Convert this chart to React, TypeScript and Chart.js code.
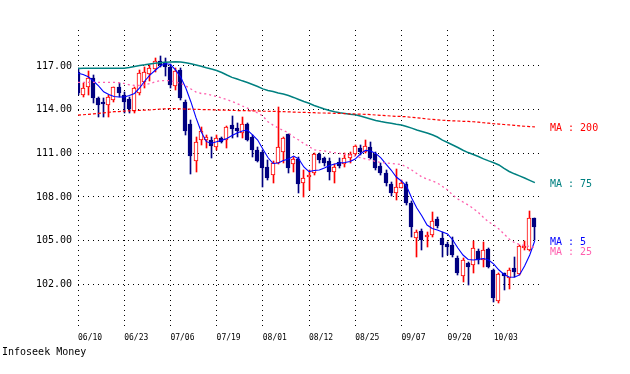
import { useEffect, useRef } from 'react';
import { Chart, registerables } from 'chart.js';

Chart.register(...registerables);

const tickDates = ['06/10', '06/23', '07/06', '07/19', '08/01', '08/12', '08/25', '09/07', '09/20', '10/03'];
const yTicks = [102, 105, 108, 111, 114, 117];

const opens = [
  116.61, 115.0, 115.58, 116.15, 114.78, 114.55, 114.32, 114.66, 115.58, 115.0,
  114.71, 113.9, 115.12, 115.9, 116.45, 116.8, 117.35, 117.25, 116.95, 115.6,
  116.7, 114.55, 113.0, 110.5, 111.9, 111.9, 111.91, 111.45, 112.03, 111.91,
  112.94, 112.72, 112.37, 113.01, 112.14, 111.23, 111.11, 110.08, 109.51, 110.31,
  111.11, 112.31, 110.26, 110.61, 108.94, 109.35, 109.63, 110.93, 110.66, 110.47,
  109.69, 110.38, 110.26, 110.66, 110.95, 111.34, 111.11, 111.41, 110.95, 110.13,
  109.67, 108.89, 108.29, 108.64, 108.89, 107.56, 105.16, 105.66, 105.23, 105.39,
  106.48, 105.16, 104.77, 104.7, 103.78, 102.57, 103.44, 103.32, 104.29, 103.67,
  104.4, 102.98, 100.85, 102.79, 102.41, 103.1, 102.7, 104.47, 104.35, 106.53,
];
const highs = [
  116.84, 115.81, 116.68, 116.38, 114.89, 114.78, 115.0, 115.58, 115.81, 115.23,
  114.89, 115.58, 116.73, 116.9, 117.1, 117.55, 117.7, 117.55, 117.15, 116.85,
  116.85, 114.65, 113.3, 112.1, 112.8, 112.26, 112.14, 112.26, 112.14, 112.88,
  113.56, 113.06, 113.47, 113.1, 112.26, 111.45, 111.23, 110.54, 110.49, 114.2,
  112.14, 112.33, 110.77, 110.77, 109.85, 109.85, 111.04, 111.04, 110.77, 110.66,
  110.26, 110.66, 111.0, 111.07, 111.55, 111.57, 111.91, 111.8, 111.09, 110.33,
  109.85, 109.03, 109.9, 109.17, 109.05, 107.72, 105.73, 105.8, 105.61, 106.99,
  106.64, 105.61, 104.92, 105.27, 103.94, 103.78, 103.55, 104.99, 104.4, 104.92,
  104.49, 103.05, 102.75, 102.79, 103.1, 103.89, 104.7, 105.0, 107.05, 106.53,
];
const lows = [
  115.0, 114.89, 115.0, 114.44, 113.52, 113.52, 113.52, 114.55, 114.89, 113.8,
  113.75, 113.75, 115.0, 115.5, 116.0, 116.6, 116.9, 116.3, 115.5, 115.35,
  114.65, 112.25, 109.6, 109.7, 111.6, 111.34, 110.66, 111.23, 111.68, 111.34,
  112.03, 112.14, 112.03, 111.85, 110.77, 110.4, 108.7, 109.17, 108.98, 110.26,
  110.31, 109.67, 109.74, 108.25, 107.98, 108.48, 109.51, 110.31, 110.1, 109.17,
  108.98, 109.97, 110.08, 110.35, 110.88, 110.88, 111.0, 110.59, 109.85, 109.51,
  108.75, 108.09, 107.79, 108.59, 107.45, 105.27, 103.85, 104.35, 104.54, 105.27,
  105.85, 103.89, 104.01, 103.89, 102.64, 102.18, 101.95, 102.75, 103.37, 103.21,
  103.12, 100.8, 100.69, 101.6, 101.65, 102.52, 102.64, 104.35, 104.31, 105.04,
];
const closes = [
  115.16, 115.51, 116.15, 114.78, 114.32, 114.39, 114.89, 115.54, 115.12, 114.53,
  114.05, 115.47, 116.54, 116.6, 116.85, 117.35, 117.1, 116.95, 115.7, 116.65,
  114.8, 112.5, 110.8, 111.8, 112.5, 112.14, 111.5, 112.03, 111.8, 112.83,
  112.65, 112.55, 112.99, 111.91, 111.23, 110.49, 109.97, 109.28, 110.31, 111.45,
  112.03, 110.01, 110.59, 108.89, 109.32, 109.44, 110.95, 110.54, 110.35, 109.74,
  110.04, 110.15, 110.66, 110.95, 111.5, 111.11, 111.5, 110.66, 109.97, 109.67,
  108.94, 108.29, 108.66, 108.94, 107.56, 105.96, 105.61, 105.04, 105.39, 106.37,
  106.0, 104.7, 104.54, 104.01, 102.75, 103.67, 103.21, 104.47, 103.67, 104.35,
  103.21, 101.03, 102.7, 102.57, 102.98, 102.86, 104.63, 104.63, 106.53, 105.91,
];

const ma5 = [
  116.5, 116.42, 116.26, 115.97, 115.63, 115.23, 115.04, 114.9, 114.87, 114.87,
  114.97, 115.11, 115.49, 115.97, 116.38, 116.69, 117.0, 117.17, 117.1, 116.73,
  116.24, 115.49, 114.53, 113.43, 112.48, 111.8, 111.69, 111.8, 111.89, 112.02,
  112.22, 112.4, 112.53, 112.6, 112.26, 111.91, 111.3, 110.71, 110.3, 110.33,
  110.51, 110.61, 110.81, 110.61, 110.06, 109.74, 109.82, 109.85, 109.99, 110.16,
  110.26, 110.33, 110.37, 110.44, 110.6, 110.95, 111.2, 111.16, 110.99, 110.68,
  110.26, 109.85, 109.37, 109.1, 108.75, 107.93, 107.24, 106.69, 106.07, 105.83,
  105.73, 105.59, 105.46, 105.04, 104.49, 104.01, 103.7, 103.67, 103.71, 103.77,
  103.67, 103.39, 102.98, 102.67, 102.5, 102.48, 102.64, 103.25, 104.01, 105.01,
];
const ma25 = [
  115.88, 115.88, 115.88, 115.88, 115.88, 115.88, 115.88, 115.88, 115.85, 115.8,
  115.71, 115.66, 115.66, 115.69, 115.8, 115.9, 115.99, 115.99, 115.99, 115.9,
  115.8, 115.63, 115.42, 115.21, 115.11, 115.08, 115.0, 114.9, 114.8, 114.7,
  114.56, 114.42, 114.25, 114.11, 113.93, 113.77, 113.56, 113.17, 112.94, 112.74,
  112.57, 112.4, 112.12, 111.91, 111.67, 111.47, 111.23, 111.19, 111.16, 111.09,
  111.04, 110.99, 110.92, 110.88, 110.81, 110.71, 110.61, 110.54, 110.44, 110.37,
  110.33, 110.3, 110.26, 110.23, 110.06, 109.85, 109.61, 109.37, 109.23, 109.1,
  108.96, 108.72, 108.48, 108.13, 107.86, 107.65, 107.45, 107.21, 106.93, 106.59,
  106.28, 106.07, 105.8, 105.45, 105.11, 104.87, 104.73, 104.66, 104.59, 104.53,
];
const ma75 = [
  116.83, 116.84, 116.84, 116.84, 116.84, 116.84, 116.84, 116.84, 116.84, 116.84,
  116.9, 116.97, 117.03, 117.08, 117.14, 117.19, 117.23, 117.25, 117.27, 117.29,
  117.27, 117.22, 117.15, 117.07, 116.98, 116.88, 116.79, 116.69, 116.55, 116.38,
  116.22, 116.11, 115.98, 115.87, 115.73, 115.59, 115.43, 115.32, 115.25, 115.14,
  115.08, 114.97, 114.84, 114.7, 114.56, 114.44, 114.29, 114.16, 114.04, 113.94,
  113.85, 113.79, 113.74, 113.69, 113.65, 113.56, 113.46, 113.36, 113.25, 113.18,
  113.12, 113.06, 113.0, 112.95, 112.84, 112.73, 112.6, 112.5, 112.4, 112.27,
  112.12, 111.91, 111.74, 111.57, 111.4, 111.21, 111.05, 110.92, 110.78, 110.62,
  110.48, 110.35, 110.2, 109.96, 109.75, 109.59, 109.45, 109.3, 109.14, 108.98,
];
const ma200 = [
  113.63, 113.65, 113.68, 113.71, 113.75, 113.78, 113.82, 113.86, 113.87, 113.9,
  113.92, 113.93, 113.95, 113.97, 113.98, 114.01, 114.04, 114.06, 114.07, 114.07,
  114.06, 114.04, 114.03, 114.02, 114.01, 114.0, 113.99, 113.98, 113.97, 113.96,
  113.95, 113.94, 113.93, 113.93, 113.91, 113.91, 113.89, 113.89, 113.88, 113.87,
  113.86, 113.85, 113.83, 113.82, 113.81, 113.8, 113.79, 113.77, 113.77, 113.76,
  113.75, 113.74, 113.73, 113.71, 113.7, 113.69, 113.68, 113.66, 113.63, 113.61,
  113.59, 113.56, 113.54, 113.53, 113.51, 113.47, 113.44, 113.41, 113.36, 113.33,
  113.3, 113.27, 113.25, 113.23, 113.22, 113.2, 113.19, 113.17, 113.14, 113.1,
  113.07, 113.03, 113.01, 112.98, 112.95, 112.92, 112.89, 112.86, 112.84, 112.81,
];

const UP = '#ff0000';
const DOWN = '#000080';
const C_MA5 = '#0000ff';
const C_MA25 = '#ff5fae';
const C_MA75 = '#008080';
const C_MA200 = '#ff0000';
const MONO = '"DejaVu Sans Mono", monospace';

export default function App() {
  const ref = useRef<HTMLCanvasElement>(null);

  useEffect(() => {
    const canvas = ref.current;
    if (!canvas) return;
    const idx = opens.map((_, i) => i);
    const isUp = idx.map((i) => closes[i] >= opens[i]);
    const maLabels = [
      { text: 'MA : 200', data: ma200, color: C_MA200 },
      { text: 'MA : 75', data: ma75, color: C_MA75 },
      { text: 'MA : 5', data: ma5, color: C_MA5 },
      { text: 'MA : 25', data: ma25, color: C_MA25 },
    ];
    // snap candle elements (positioned by the scales) to whole pixels for crisp bars
    const snapPlugin = {
      id: 'snapBars',
      beforeDatasetsDraw(chart: any) {
        chart.data.datasets.forEach((ds: any, di: number) => {
          if (ds.type !== 'bar') return;
          const meta = chart.getDatasetMeta(di);
          meta.data.forEach((el: any) => {
            if (ds.barThickness === 1) el.x = Math.floor(el.x) + 0.5;
            else el.x = Math.floor(el.x);
            el.y = Math.round(el.y);
            el.base = Math.round(el.base);
          });
        });
      },
    };
    const labelPlugin = {
      id: 'maLabels',
      afterDatasetsDraw(chart: any) {
        const { ctx, chartArea } = chart;
        const y = chart.scales.y;
        const items = maLabels
          .map((m) => ({ ...m, py: y.getPixelForValue(m.data[m.data.length - 1]) + 1.5 }))
          .sort((a, b) => a.py - b.py);
        for (let k = 1; k < items.length; k++) {
          if (items[k].py - items[k - 1].py < 10) items[k].py = items[k - 1].py + 10;
        }
        ctx.save();
        ctx.font = '10px ' + MONO;
        ctx.textBaseline = 'middle';
        ctx.textAlign = 'left';
        items.forEach((it) => {
          ctx.fillStyle = it.color;
          ctx.fillText(it.text, chartArea.right + 10, it.py);
        });
        ctx.restore();
      },
    };
    const line = (data: number[], color: string, dash: number[], width: number) => ({
      type: 'line' as const,
      data: data.map((v, i) => ({ x: i, y: v })),
      borderColor: color,
      borderWidth: width,
      borderDash: dash,
      pointRadius: 0,
      tension: 0,
      fill: false,
      order: 0,
    });
    const chart = new Chart(canvas, {
      type: 'line',
      data: {
        datasets: [
          line(ma200, C_MA200, [3, 2], 1.2),
          line(ma75, C_MA75, [], 1.5),
          line(ma25, C_MA25, [2, 3], 1.3),
          line(ma5, C_MA5, [], 1.1),
          {
            type: 'bar',
            data: idx.map((i) => ({ x: i, y: [Math.min(opens[i], closes[i]), Math.max(opens[i], closes[i])] })),
            backgroundColor: idx.map((i) => (isUp[i] ? '#ffffff' : DOWN)),
            borderColor: idx.map((i) => (isUp[i] ? UP : DOWN)),
            borderWidth: 1,
            borderSkipped: false,
            barThickness: 4,
            minBarLength: 2,
            grouped: false,
            order: 1,
          } as any,
          {
            type: 'bar',
            data: idx.map((i) => ({ x: i, y: [lows[i], highs[i]] })),
            backgroundColor: idx.map((i) => (isUp[i] ? UP : DOWN)),
            borderWidth: 0,
            barThickness: 1,
            grouped: false,
            order: 2,
          } as any,
        ],
      },
      options: {
        animation: false,
        responsive: false,
        maintainAspectRatio: false,
        layout: { padding: { left: 0, right: 90, top: 30, bottom: 30 } },
        plugins: { legend: { display: false }, tooltip: { enabled: false } },
        scales: {
          x: {
            type: 'linear',
            min: 0,
            max: 90,
            offset: false,
            afterBuildTicks: (s: any) => {
              s.ticks = tickDates.map((_, k) => ({ value: k * 9 }));
            },
            afterFit: (s: any) => {
              s.height = 14;
            },
            ticks: {
              align: 'start',
              padding: 3,
              maxRotation: 0,
              autoSkip: false,
              color: '#000',
              font: { family: MONO, size: 8 },
              callback: (v: any) => tickDates[Math.round(Number(v) / 9)] ?? '',
            },
            grid: { color: '#000', lineWidth: 1, drawTicks: false, offset: false },
            border: { display: false, dash: [1, 4] },
          },
          y: {
            type: 'linear',
            min: 98.856,
            max: 119.474,
            afterBuildTicks: (s: any) => {
              s.ticks = yTicks.map((v) => ({ value: v }));
            },
            afterFit: (s: any) => {
              s.width = 78;
            },
            ticks: {
              padding: 6,
              color: '#000',
              font: { family: MONO, size: 10 },
              callback: (v: any) => Number(v).toFixed(2),
            },
            grid: { color: '#000', lineWidth: 1, drawTicks: false },
            border: { display: false, dash: [1, 4] },
          },
        },
      } as any,
      plugins: [snapPlugin, labelPlugin],
    });
    return () => chart.destroy();
  }, []);

  return (
    <div style={{ position: 'absolute', left: 0, top: 0, width: 630, height: 374, background: '#fff' }}>
      <canvas ref={ref} width={630} height={374} style={{ display: 'block' }} />
      <div
        style={{
          position: 'absolute',
          left: 2,
          top: 347,
          font: '10px ' + MONO,
          lineHeight: '10px',
          color: '#000',
          whiteSpace: 'nowrap',
        }}
      >
        Infoseek Money
      </div>
    </div>
  );
}
